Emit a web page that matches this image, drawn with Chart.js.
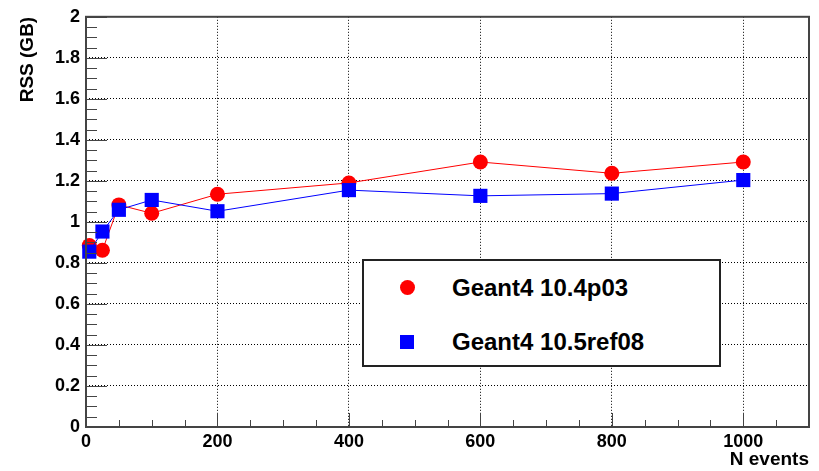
<!DOCTYPE html>
<html>
<head>
<meta charset="utf-8">
<script src="https://cdn.jsdelivr.net/npm/chart.js@4/dist/chart.umd.min.js"></script>
<style>
    body { margin: 0; background: #fff; }
    #wrap { position: relative; width: 819px; height: 471px; }
    #legend {
        position: absolute; left: 362px; top: 259px; width: 355px; height: 104px;
        border: 2px solid #222; background: #fff;
        font: bold 24px "Liberation Sans", Arial, sans-serif; color: #000;
    }
    .item { position: absolute; left: 0; height: 30px; line-height: 30px; }
    .item span { position: absolute; left: 88px; white-space: nowrap; }
    .mark { position: absolute; left: 36px; top: 8px; width: 14px; height: 14px; }
    .dot { background: #ff0000; border-radius: 50%; width: 15px; height: 15px; top: 7px; }
    .sq { background: #0000ff; }
</style>
</head>
<body>
<div id="wrap">
    <canvas id="rss_chart" width="819" height="471"></canvas>
    <div id="legend">
        <div class="item" style="top: 12px"><div class="mark dot"></div><span>Geant4 10.4p03</span></div>
        <div class="item" style="top: 66px"><div class="mark sq"></div><span>Geant4 10.5ref08</span></div>
    </div>
</div>
<script>
// values
const nEvents = [5, 25, 50, 100, 200, 400, 600, 800, 1000];
const rss_10_4p03 = [0.885, 0.862, 1.083, 1.042, 1.135, 1.19, 1.292, 1.237, 1.292];
const rss_10_5ref08 = [0.855, 0.953, 1.059, 1.107, 1.052, 1.155, 1.127, 1.138, 1.204];
const xMajor = [0, 200, 400, 600, 800, 1000];
const yMajor = [0, 0.2, 0.4, 0.6, 0.8, 1, 1.2, 1.4, 1.6, 1.8, 2];

const FONT = '"Liberation Sans", Arial, sans-serif';
const axisColor = '#444';

function toPoints(xs, ys) {
    return xs.map(function (x, i) { return {x: x, y: ys[i]}; });
}

function isMajorX(v) {
    return Math.abs(v % 200) < 1e-6;
}

function isMajorY(v) {
    return Math.round(v * 100) % 20 === 0;
}

// ROOT style frame with ticks pointing inside
const frameTicks = {
    id: 'frameTicks',
    afterDraw(chart) {
        const ctx = chart.ctx;
        const a = chart.chartArea;
        const xs = chart.scales.x;
        const ys = chart.scales.y;
        ctx.save();
        ctx.strokeStyle = axisColor;
        ctx.lineWidth = 1;
        ctx.beginPath();
        xs.ticks.forEach(function (t) {
            const px = Math.round(xs.getPixelForValue(t.value)) + 0.5;
            const len = isMajorX(t.value) ? 14 : 7;
            ctx.moveTo(px, a.bottom);
            ctx.lineTo(px, a.bottom - len);
        });
        ys.ticks.forEach(function (t) {
            const py = Math.round(ys.getPixelForValue(t.value)) + 0.5;
            const len = isMajorY(t.value) ? 21 : 11;
            ctx.moveTo(a.left, py);
            ctx.lineTo(a.left + len, py);
        });
        ctx.stroke();
        ctx.lineWidth = 2;
        ctx.strokeRect(a.left, a.top, a.right - a.left, a.bottom - a.top);
        ctx.restore();
    }
};

const ctx = document.getElementById('rss_chart').getContext('2d');

new Chart(ctx, {
    type: 'line',
    data: {
        datasets: [
            {
                label: 'Geant4 10.4p03',
                data: toPoints(nEvents, rss_10_4p03),
                borderColor: '#ff0000',
                backgroundColor: '#ff0000',
                borderWidth: 1,
                pointStyle: 'circle',
                pointRadius: 7.5,
                pointBorderWidth: 0,
                order: 1,
                clip: false,
            },
            {
                label: 'Geant4 10.5ref08',
                data: toPoints(nEvents, rss_10_5ref08),
                borderColor: '#0000ff',
                backgroundColor: '#0000ff',
                borderWidth: 1,
                pointStyle: 'rect',
                pointRadius: 10,
                pointBorderWidth: 0,
                order: 0,
                clip: false,
            }],
    },
    options: {
        responsive: false,
        animation: false,
        devicePixelRatio: 1,
        layout: {
            padding: {left: 0, right: 10, top: 15, bottom: 0},
        },
        plugins: {
            legend: {display: false},
            tooltip: {enabled: false},
        },
        scales: {
            x: {
                type: 'linear',
                min: 0,
                max: 1100,
                afterFit: function (scale) { scale.height = 44; },
                border: {display: false, dash: [1, 2]},
                grid: {
                    drawTicks: false,
                    color: function (c) {
                        const v = c.tick.value;
                        return (isMajorX(v) && v > 0 && v < 1100) ? '#000' : 'transparent';
                    },
                },
                ticks: {
                    stepSize: 50,
                    autoSkip: false,
                    maxRotation: 0,
                    padding: 4,
                    color: '#000',
                    font: {family: FONT, size: 18, weight: 'bold'},
                    callback: function (v) {
                        return xMajor.indexOf(v) >= 0 ? String(v) : '';
                    },
                },
                title: {
                    display: true,
                    text: 'N events',
                    align: 'end',
                    color: '#000',
                    padding: 0,
                    font: {family: FONT, size: 19, weight: 'bold'},
                },
            },
            y: {
                min: 0,
                max: 2,
                afterFit: function (scale) { scale.width = 86; },
                border: {display: false, dash: [1, 2]},
                grid: {
                    drawTicks: false,
                    color: function (c) {
                        const v = c.tick.value;
                        return (isMajorY(v) && v > 0.01 && v < 1.99) ? '#000' : 'transparent';
                    },
                },
                ticks: {
                    stepSize: 0.05,
                    autoSkip: false,
                    padding: 6,
                    color: '#000',
                    font: {family: FONT, size: 18, weight: 'bold'},
                    callback: function (v) {
                        const r = Math.round(v * 10) / 10;
                        return (isMajorY(v) && yMajor.indexOf(r) >= 0) ? String(r) : '';
                    },
                },
                title: {
                    display: true,
                    text: 'RSS (GB)',
                    align: 'end',
                    color: '#000',
                    padding: {top: 16, bottom: 0},
                    font: {family: FONT, size: 19, weight: 'bold'},
                },
            },
        },
    },
    plugins: [frameTicks],
});
</script>
</body>
</html>
